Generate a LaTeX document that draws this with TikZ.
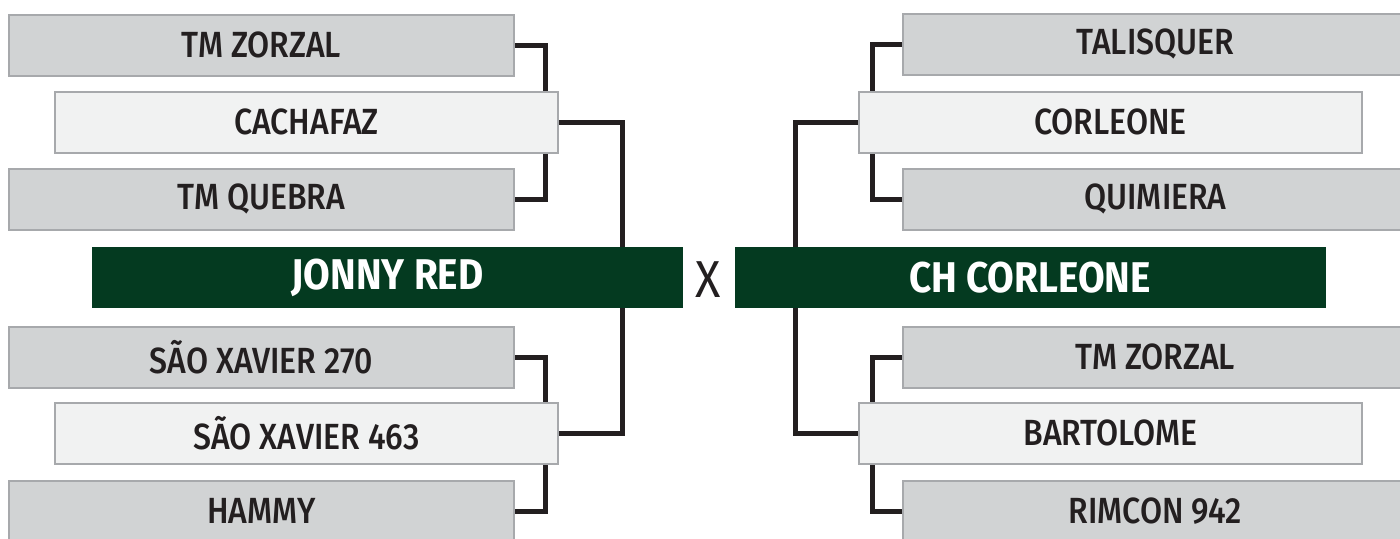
\documentclass[tikz,border=0pt]{standalone}
\usepackage{fontspec}
\setmainfont{Fira Sans}[FakeStretch=0.88,UprightFont=* Medium]
\newfontfamily\boldf{Fira Sans}[FakeStretch=0.9,UprightFont=* Bold]
\newfontfamily\regf{Fira Sans}[FakeStretch=0.9]
\definecolor{gfill}{HTML}{D1D3D4}
\definecolor{gborder}{HTML}{A7A9AC}
\definecolor{lfill}{HTML}{F1F2F2}
\definecolor{dgreen}{HTML}{043A20}
\definecolor{lineblk}{HTML}{231F20}
\begin{document}
\begin{tikzpicture}[x=0.5pt,y=-0.5pt,
  team/.style={draw=gborder,line width=1pt,fill=gfill,inner sep=0pt,minimum width=252.5pt,minimum height=30.5pt,font=\fontsize{18.2}{20}\selectfont,text=lineblk},
  lteam/.style={team,fill=lfill,minimum width=251.5pt},
  final/.style={draw=none,fill=dgreen,inner sep=0pt,minimum width=295.5pt,minimum height=30.5pt,font=\boldf\fontsize{21.5}{23}\selectfont,text=white},
  conn/.style={draw=lineblk,line width=2.5pt}]
\useasboundingbox (0,0) rectangle (1400,538);
% left side
\node[team]  (a1) at (261.5,45)  {TM ZORZAL};
\node[lteam] (a2) at (306.5,122) {CACHAFAZ};
\node[team]  (a3) at (261.5,199) {TM QUEBRA};
\node[final] (fa) at (387.5,277.5) {JONNY RED};
\node[team]  (a5) at (261.5,357) {SÃO XAVIER 270};
\node[lteam] (a6) at (306.5,433) {SÃO XAVIER 463};
\node[team]  (a7) at (261.5,511) {HAMMY};
% right side
\node[team]  (b1) at (1155.5,44)  {TALISQUER};
\node[lteam] (b2) at (1110.5,122) {CORLEONE};
\node[team]  (b3) at (1155.5,199) {QUIMIERA};
\node[final] (fb) at (1030,277.5) {CH CORLEONE};
\node[team]  (b5) at (1155.5,357) {TM ZORZAL};
\node[lteam] (b6) at (1110.5,433) {BARTOLOME};
\node[team]  (b7) at (1155.5,511) {RIMCON 942};
\node[font=\regf\fontsize{26}{28}\selectfont,text=lineblk,inner sep=0pt] (x) at (708.5,279.5) {X};
% connectors left
\draw[conn] (a1.east) -| (a2.north -| 545,0);
\draw[conn] (a3.east) -| (a2.south -| 545,0);
\draw[conn] (a2.east) -| (fa.north -| 622,0);
\draw[conn] (a5.east) -| (a6.north -| 545,0);
\draw[conn] (a7.east) -| (a6.south -| 545,0);
\draw[conn] (a6.east) -| (fa.south -| 622,0);
% connectors right
\draw[conn] (b1.west) -| (b2.north -| 872,0);
\draw[conn] (b3.west) -| (b2.south -| 872,0);
\draw[conn] (b2.west) -| (fb.north -| 795,0);
\draw[conn] (b5.west) -| (b6.north -| 872,0);
\draw[conn] (b7.west) -| (b6.south -| 872,0);
\draw[conn] (b6.west) -| (fb.south -| 795,0);
\end{tikzpicture}
\end{document}
